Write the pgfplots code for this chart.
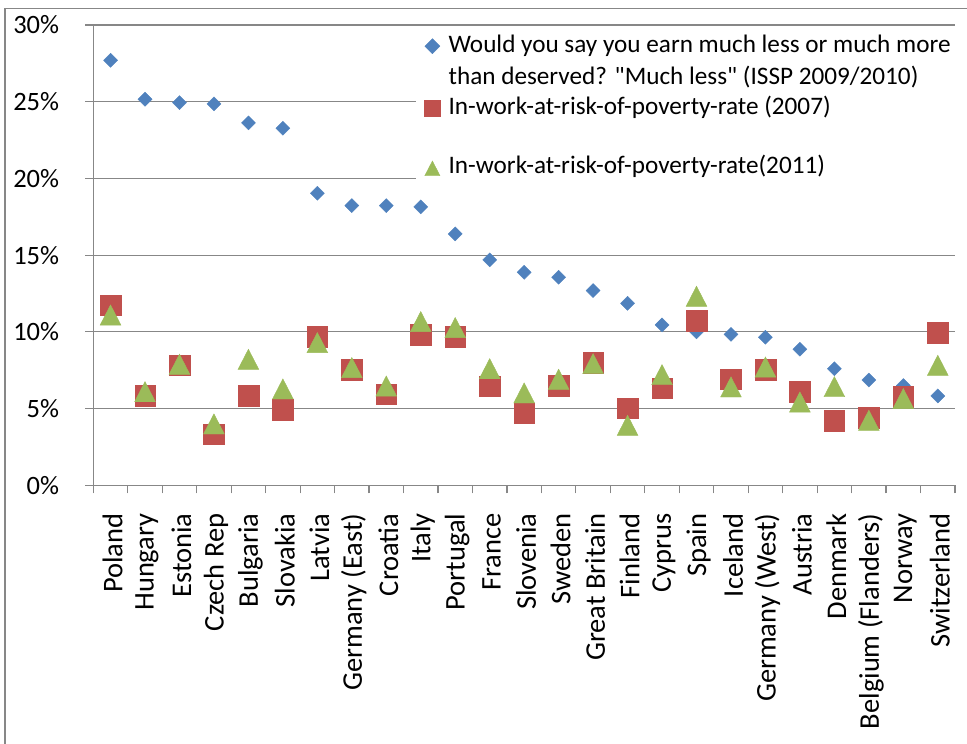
\documentclass[border=0pt]{standalone}
\usepackage{pgfplots}
\pgfplotsset{compat=1.18}
\usepackage{pgfplotstable}
\usepackage{fontspec}
\setmainfont{Carlito}
\newcommand\sq{\XeTeXglyph\XeTeXcharglyph"22\relax}
\definecolor{dblue}{HTML}{4F81BD}
\definecolor{dred}{HTML}{C0504D}
\definecolor{dgreen}{HTML}{9BBB59}
\definecolor{ggray}{HTML}{878787}

\pgfplotstableread{
idx much2009 pov2007 pov2011
0  27.70 11.75 11.10
1  25.16  5.82  6.10
2  24.94  7.84  7.89
3  24.86  3.32  4.00
4  23.62  5.82  8.21
5  23.27  4.91  6.28
6  19.03  9.69  9.30
7  18.23  7.52  7.67
8  18.23  5.93  6.47
9  18.14  9.80 10.67
10 16.38  9.69 10.28
11 14.69  6.47  7.60
12 13.88  4.69  6.02
13 13.56  6.49  6.91
14 12.69  7.99  7.93
15 11.86  5.02  3.91
16 10.45  6.32  7.21
17 10.00 10.71 12.32
18  9.84  6.91  6.41
19  9.65  7.52  7.71
20  8.87  6.10  5.43
21  7.60  4.21  6.43
22  6.86  4.41  4.24
23  6.50  5.78  5.65
24  5.82  9.95  7.82
}\datatable

\pgfplotsset{myleg/.style={legend image code/.code={\draw[##1, every mark/.append style={scale=#1}] plot coordinates {(0bp,6bp)}; \path (-8bp,-4bp) (8bp,4bp);}}}

\begin{document}
\begin{tikzpicture}[x=1bp,y=1bp]
\useasboundingbox (0,0) rectangle (967,744);
\draw[ggray, line width=1.2bp] (5,0) -- (5,735.7) -- (967,735.7);
\begin{axis}[
  at={(93.3bp,258.7bp)}, anchor=south west,
  scale only axis, width=861.7bp, height=460.3bp,
  xmin=-0.5, xmax=24.5, ymin=0, ymax=30,
  axis x line*=bottom, axis y line*=left,
  axis line style={draw=ggray, line width=1.2bp},
  ytick={0,5,...,30},
  yticklabels={0\%,5\%,10\%,15\%,20\%,25\%,30\%},
  ymajorgrids,
  grid style={draw=ggray, line width=1.2bp},
  xtick={0,...,24},
  xticklabels={Poland,Hungary,Estonia,Czech Rep,Bulgaria,Slovakia,Latvia,Germany (East),Croatia,Italy,Portugal,France,Slovenia,Sweden,Great Britain,Finland,Cyprus,Spain,Iceland,Germany (West),Austria,Denmark,Belgium (Flanders),Norway,Switzerland},
  minor xtick={-0.5,0.5,...,24.5},
  tick align=outside,
  major tick length=8bp, minor tick length=8bp,
  tick style={draw=ggray, line width=1.2bp},
  major x tick style={draw=none},
  yticklabel style={font=\fontsize{26.5bp}{32bp}\selectfont, anchor=east, inner sep=0pt, xshift=-26bp},
  xticklabel style={font=\fontsize{28.5bp}{34bp}\selectfont, yshift=-20bp, xshift=2bp, rotate=90, anchor=east, inner sep=0pt},
  legend style={at={(rel axis cs:0.3745,0.99565)}, anchor=north west, draw=none, fill=white,
    inner xsep=8bp, inner ysep=0pt, row sep=0pt, column sep=6bp,
    font=\fontsize{25.2bp}{32bp}\selectfont,
    cells={anchor=base west, inner sep=0pt}},
  clip=false,
]
\addplot[only marks, myleg=1.07, color=dblue, mark=square*, mark size=4.95bp, mark options={rotate=45}] table[x=idx, y=much2009] {\datatable};
\addlegendentry[text height=23bp, text depth=38.3bp]{\begin{tabular}[t]{@{}l@{}}Would you say you earn much less or much more\\than deserved? \sq Much less\sq{} (ISSP 2009/2010)\end{tabular}}
\addplot[only marks, myleg=0.76, color=dred, mark=square*, mark size=10.3bp] table[x=idx, y=pov2007] {\datatable};
\addlegendentry[text height=20bp, text depth=35bp]{In-work-at-risk-of-poverty-rate (2007)}
\addplot[only marks, myleg=0.73, color=dgreen, mark=triangle*, mark size=12bp, mark options={yscale=1.12, yshift=-3bp}] table[x=idx, y=pov2011] {\datatable};
\addlegendentry[text height=20bp, text depth=20bp]{In-work-at-risk-of-poverty-rate(2011)}
\end{axis}
\end{tikzpicture}
\end{document}
